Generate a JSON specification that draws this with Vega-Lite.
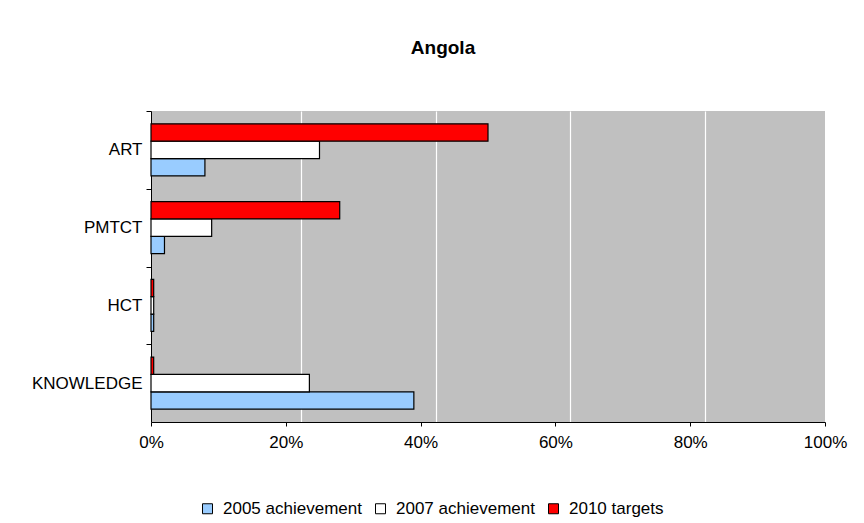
{
  "$schema": "https://vega.github.io/schema/vega-lite/v6.json",
  "width": 674,
  "height": 311,
  "autosize": "none",
  "padding": {"left": 151, "top": 111, "right": 39, "bottom": 101},
  "background": "white",
  "config": {
    "font": "Liberation Sans",
    "view": {"fill": "#C0C0C0", "stroke": null}
  },
  "title": {
    "text": "Angola",
    "font": "Liberation Sans",
    "fontSize": 19,
    "fontWeight": "bold",
    "color": "black",
    "anchor": "middle",
    "dx": -45,
    "offset": 53
  },
  "data": {
    "values": [
      {"indicator": "ART", "series": "2005 achievement", "value": 8},
      {"indicator": "ART", "series": "2007 achievement", "value": 25},
      {"indicator": "ART", "series": "2010 targets", "value": 50},
      {"indicator": "PMTCT", "series": "2005 achievement", "value": 2},
      {"indicator": "PMTCT", "series": "2007 achievement", "value": 9},
      {"indicator": "PMTCT", "series": "2010 targets", "value": 28},
      {"indicator": "HCT", "series": "2005 achievement", "value": 0.4},
      {"indicator": "HCT", "series": "2007 achievement", "value": 0.4},
      {"indicator": "HCT", "series": "2010 targets", "value": 0.4},
      {"indicator": "KNOWLEDGE", "series": "2005 achievement", "value": 39},
      {"indicator": "KNOWLEDGE", "series": "2007 achievement", "value": 23.5},
      {"indicator": "KNOWLEDGE", "series": "2010 targets", "value": 0.4}
    ]
  },
  "encoding": {
    "y": {
      "field": "indicator",
      "type": "nominal",
      "sort": ["ART", "PMTCT", "HCT", "KNOWLEDGE"],
      "scale": {"paddingInner": 0.33, "paddingOuter": 0.165},
      "axis": {
        "title": null,
        "tickOffset": -38.875,
        "labelOffset": 38.875,
        "domainColor": "black",
        "tickColor": "black",
        "tickSize": 5,
        "labelPadding": 4,
        "labelFontSize": 17,
        "labelColor": "black",
        "labelFont": "Liberation Sans"
      }
    }
  },
  "layer": [
    {
      "mark": {"type": "point", "opacity": 0},
      "encoding": {
        "x": {
          "field": "value",
          "type": "quantitative",
          "scale": {"domain": [-2.2255, 97.7745], "nice": false, "zero": false},
          "axis": {
            "orient": "top",
            "title": null,
            "values": [20, 40, 60, 80],
            "grid": true,
            "gridColor": "white",
            "gridWidth": 1.2,
            "labels": false,
            "ticks": false,
            "domain": false
          }
        }
      }
    },
    {
      "mark": {"type": "bar", "stroke": "black", "strokeWidth": 1.2},
      "encoding": {
        "yOffset": {
          "field": "series",
          "type": "nominal",
          "sort": ["2010 targets", "2007 achievement", "2005 achievement"]
        },
        "x": {
          "field": "value",
          "type": "quantitative",
          "scale": {"domain": [0, 100], "nice": false},
          "axis": {
            "orient": "bottom",
            "title": null,
            "values": [0, 20, 40, 60, 80, 100],
            "labelExpr": "datum.value + '%'",
            "grid": false,
            "domainColor": "black",
            "tickColor": "black",
            "tickSize": 4,
            "labelPadding": 8,
            "labelFontSize": 17,
            "labelColor": "black",
            "labelFont": "Liberation Sans",
            "labelFlush": false
          }
        },
        "color": {
          "field": "series",
          "type": "nominal",
          "scale": {
            "domain": ["2005 achievement", "2007 achievement", "2010 targets"],
            "range": ["#99CCFF", "#FFFFFF", "#FF0000"]
          },
          "legend": {
            "title": null,
            "orient": "none",
            "direction": "horizontal",
            "legendX": 48,
            "legendY": 389,
            "symbolType": "square",
            "symbolSize": 100,
            "symbolStrokeColor": "black",
            "symbolStrokeWidth": 1,
            "symbolOpacity": 1,
            "labelFontSize": 17,
            "labelColor": "black",
            "labelFont": "Liberation Sans",
            "labelOffset": 7,
            "columnPadding": 10,
            "padding": 0
          }
        }
      }
    }
  ],
  "resolve": {"scale": {"x": "independent"}}
}
